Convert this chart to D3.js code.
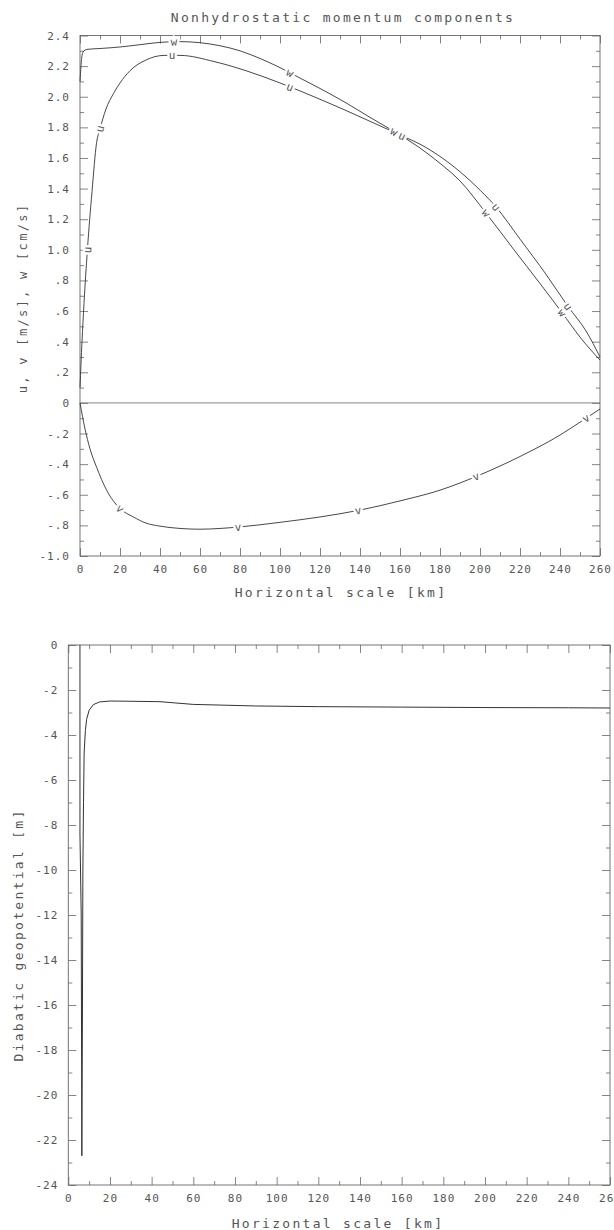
<!DOCTYPE html>
<html>
<head>
<meta charset="utf-8">
<script src="https://cdn.jsdelivr.net/npm/d3@7"></script>
<style>
  body { margin: 0; background: #fff; }
  svg text { font-family: "DejaVu Sans Mono", "Liberation Mono", monospace; fill: #555; font-variant-numeric: slashed-zero; }
</style>
</head>
<body>
<script>
// ---- data ----
// top panel: nonhydrostatic momentum components
const wKm  = [0, 0.5, 1, 2, 4, 10, 20, 30, 40, 50, 60, 70, 80, 90, 100, 110, 120, 133, 145, 160, 170, 180, 190, 203, 217, 230, 241, 250, 260];
const wVal = [2.10, 2.20, 2.27, 2.30, 2.31, 2.315, 2.325, 2.34, 2.355, 2.36, 2.353, 2.333, 2.30, 2.25, 2.19, 2.122, 2.054, 1.96, 1.865, 1.75, 1.665, 1.565, 1.45, 1.24, 1.00, 0.78, 0.59, 0.43, 0.28];

const uKm  = [0, 1, 2, 3.7, 6, 8.3, 10, 13, 16.7, 20, 25, 33, 42, 50, 67, 83, 100, 117, 133, 150, 160, 170, 180, 190, 200, 208, 220, 233, 244, 253, 260];
const uVal = [0.10, 0.40, 0.65, 1.00, 1.38, 1.70, 1.79, 1.92, 2.02, 2.09, 2.17, 2.24, 2.27, 2.27, 2.23, 2.17, 2.09, 2.00, 1.91, 1.81, 1.75, 1.69, 1.61, 1.51, 1.39, 1.28, 1.07, 0.84, 0.63, 0.47, 0.30];

const vKm  = [0, 2.5, 5, 8.3, 13.3, 20, 26.7, 33, 40, 50, 60, 70, 80, 100, 120, 140, 160, 180, 200, 220, 240, 253, 260];
const vVal = [0, -0.17, -0.30, -0.42, -0.57, -0.69, -0.745, -0.785, -0.805, -0.82, -0.825, -0.82, -0.81, -0.78, -0.745, -0.70, -0.64, -0.57, -0.47, -0.35, -0.21, -0.10, -0.04];

// where the curve letters sit (km)
const wLabelKm = [47, 105, 157, 203, 241];
const uLabelKm = [3.7, 10, 46, 105, 161, 208, 244];
const vLabelKm = [20, 79, 139, 198, 253];

// bottom panel: diabatic geopotential
const phiKm  = [5.6, 5.6, 6.2, 6.5, 6.8, 7.0, 7.3, 7.6, 8.2, 8.8, 10, 12, 15, 20, 30, 44, 60, 90, 120, 160, 200, 240, 260];
const phiVal = [0, -8.4, -12, -22.7, -16, -10, -7, -4.8, -3.8, -3.3, -2.9, -2.65, -2.53, -2.49, -2.50, -2.52, -2.64, -2.71, -2.74, -2.76, -2.78, -2.79, -2.80];

// ticks
const xMajor = d3.range(0, 261, 20);
const xMinor = d3.range(10, 260, 20);
const yTopMajor = [-1.0, -0.8, -0.6, -0.4, -0.2, 0, 0.2, 0.4, 0.6, 0.8, 1.0, 1.2, 1.4, 1.6, 1.8, 2.0, 2.2, 2.4];
const yTopLabels = ["-1.0", "-.8", "-.6", "-.4", "-.2", "0", ".2", ".4", ".6", ".8", "1.0", "1.2", "1.4", "1.6", "1.8", "2.0", "2.2", "2.4"];
const yTopMinor = d3.range(-9, 24, 2).map(d => d / 10);
const yBotMajor = d3.range(-24, 1, 2);
const yBotMinor = d3.range(-23, 0, 2);

const svg = d3.select('body').append('svg')
  .attr('width', 614)
  .attr('height', 1230);

// draws frame + inward ticks on all four sides
function frame(g, x, y, w, h, opts) {
  const ax = (axis) => axis.tickSizeOuter(0);

  // bottom with labels
  const b = g.append('g').attr('transform', `translate(0,${h})`)
    .call(ax(d3.axisBottom(x).tickValues(xMajor).tickSize(-8).tickPadding(14).tickFormat(d => d)));
  g.append('g').attr('transform', `translate(0,${h})`)
    .call(ax(d3.axisBottom(x).tickValues(xMinor).tickSize(-4).tickFormat('')));
  // top
  g.append('g').call(ax(d3.axisTop(x).tickValues(xMajor).tickSize(-8).tickFormat('')));
  g.append('g').call(ax(d3.axisTop(x).tickValues(xMinor).tickSize(-4).tickFormat('')));
  // left with labels
  g.append('g')
    .call(ax(d3.axisLeft(y).tickValues(opts.yMajor).tickSize(-8).tickPadding(10).tickFormat((d, i) => opts.yLabels[i])));
  g.append('g').call(ax(d3.axisLeft(y).tickValues(opts.yMinor).tickSize(-4).tickFormat('')));
  // right
  g.append('g').attr('transform', `translate(${w},0)`)
    .call(ax(d3.axisRight(y).tickValues(opts.yMajor).tickSize(-8).tickFormat('')));
  g.append('g').attr('transform', `translate(${w},0)`)
    .call(ax(d3.axisRight(y).tickValues(opts.yMinor).tickSize(-4).tickFormat('')));

  g.selectAll('.domain').remove();
  g.selectAll('.tick line').attr('stroke', '#666').attr('stroke-width', 0.8);
  g.selectAll('.tick text').attr('font-size', '11px').attr('letter-spacing', '1px')
    .attr('font-family', null).attr('fill', '#555');
  b.selectAll('.tick text').attr('dy', '0.3em');

  g.append('rect')
    .attr('width', w).attr('height', h)
    .attr('fill', 'none').attr('stroke', '#666').attr('stroke-width', 0.9);
}

// ---------------- top panel ----------------
const topBox = { left: 80, top: 35.5, width: 520, height: 520.5 };
const gTop = svg.append('g').attr('transform', `translate(${topBox.left},${topBox.top})`);
const xTop = d3.scaleLinear().domain([0, 260]).range([0, topBox.width]);
const yTop = d3.scaleLinear().domain([-1.0, 2.4]).range([topBox.height, 0]);

frame(gTop, xTop, yTop, topBox.width, topBox.height, { yMajor: yTopMajor, yLabels: yTopLabels, yMinor: yTopMinor });

// zero line
gTop.append('line')
  .attr('x1', 0).attr('x2', topBox.width)
  .attr('y1', yTop(0)).attr('y2', yTop(0))
  .attr('stroke', '#777').attr('stroke-width', 0.9);

const lineTop = d3.line()
  .x(d => xTop(d[0]))
  .y(d => yTop(d[1]))
  .curve(d3.curveMonotoneX);

const series = [
  { name: 'w', km: wKm, val: wVal, labels: wLabelKm },
  { name: 'u', km: uKm, val: uVal, labels: uLabelKm },
  { name: 'v', km: vKm, val: vVal, labels: vLabelKm }
];

series.forEach(s => {
  const pts = s.km.map((k, i) => [k, s.val[i]]);
  gTop.append('path')
    .attr('d', lineTop(pts))
    .attr('fill', 'none')
    .attr('stroke', '#333')
    .attr('stroke-width', 0.9);
});

// curve letters, rotated along the line, with a white halo that breaks the line
series.forEach(s => {
  const interp = (k) => {
    let i = d3.bisectRight(s.km, k) - 1;
    i = Math.max(0, Math.min(i, s.km.length - 2));
    const t = (k - s.km[i]) / (s.km[i + 1] - s.km[i]);
    return s.val[i] + t * (s.val[i + 1] - s.val[i]);
  };
  s.labels.forEach(k => {
    const px = xTop(k), py = yTop(interp(k));
    const dx = xTop(k + 1.5) - xTop(k - 1.5);
    const dy = yTop(interp(k + 1.5)) - yTop(interp(k - 1.5));
    const ang = Math.atan2(dy, dx) * 180 / Math.PI;
    gTop.append('text')
      .attr('transform', `translate(${px},${py}) rotate(${ang})`)
      .attr('text-anchor', 'middle')
      .attr('dy', '0.35em')
      .attr('font-size', '11px')
      .attr('stroke', '#fff')
      .attr('stroke-width', 5)
      .attr('paint-order', 'stroke')
      .attr('fill', '#444')
      .text(s.name);
  });
});

// titles
svg.append('text')
  .attr('x', 343).attr('y', 22)
  .attr('text-anchor', 'middle')
  .attr('font-size', '13px')
  .attr('letter-spacing', '2.3px')
  .text('Nonhydrostatic momentum components');

svg.append('text')
  .attr('x', 341).attr('y', 597)
  .attr('text-anchor', 'middle')
  .attr('font-size', '13px')
  .attr('letter-spacing', '2.3px')
  .text('Horizontal scale [km]');

svg.append('text')
  .attr('transform', 'translate(27,298) rotate(-90)')
  .attr('text-anchor', 'middle')
  .attr('font-size', '12px')
  .attr('letter-spacing', '2.3px')
  .text('u, v [m/s], w [cm/s]');

// ---------------- bottom panel ----------------
const botBox = { left: 68.3, top: 645, width: 541.7, height: 540 };
const gBot = svg.append('g').attr('transform', `translate(${botBox.left},${botBox.top})`);
const xBot = d3.scaleLinear().domain([0, 260]).range([0, botBox.width]);
const yBot = d3.scaleLinear().domain([-24, 0]).range([botBox.height, 0]);

frame(gBot, xBot, yBot, botBox.width, botBox.height, { yMajor: yBotMajor, yLabels: yBotMajor.map(d => d), yMinor: yBotMinor });

const lineBot = d3.line()
  .x(d => xBot(d[0]))
  .y(d => yBot(d[1]));

gBot.append('path')
  .attr('d', lineBot(phiKm.map((k, i) => [k, phiVal[i]])))
  .attr('fill', 'none')
  .attr('stroke', '#333')
  .attr('stroke-width', 1);

svg.append('text')
  .attr('x', 338).attr('y', 1228)
  .attr('text-anchor', 'middle')
  .attr('font-size', '13px')
  .attr('letter-spacing', '2.3px')
  .text('Horizontal scale [km]');

svg.append('text')
  .attr('transform', 'translate(23,935) rotate(-90)')
  .attr('text-anchor', 'middle')
  .attr('font-size', '13px')
  .attr('letter-spacing', '2.3px')
  .text('Diabatic geopotential [m]');
</script>
</body>
</html>
